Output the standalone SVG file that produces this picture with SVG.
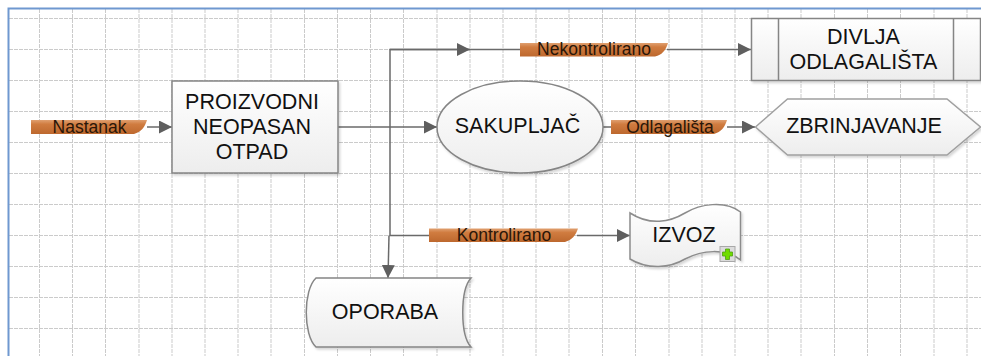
<svg xmlns="http://www.w3.org/2000/svg" width="981" height="356" viewBox="0 0 981 356">
<defs>
<linearGradient id="nodeFill" x1="0" y1="0" x2="0" y2="1"><stop offset="0" stop-color="#ffffff"/><stop offset="1" stop-color="#ededed"/></linearGradient>
<linearGradient id="tagFill" x1="0" y1="0" x2="0" y2="1"><stop offset="0" stop-color="#e0a070"/><stop offset="0.3" stop-color="#d07c40"/><stop offset="1" stop-color="#bd682e"/></linearGradient>
<filter id="shadow" x="-5%" y="-5%" width="112%" height="115%"><feDropShadow dx="1.5" dy="2" stdDeviation="1.2" flood-color="#000" flood-opacity="0.16"/></filter>
<marker id="arrow" markerUnits="userSpaceOnUse" markerWidth="14" markerHeight="13" refX="13" refY="6.5" orient="auto"><path d="M0 0L13 6.5L0 13Z" fill="#5f5f5f"/></marker>
<style>
.grid{fill:none;stroke:#cbcbcb;stroke-width:1;stroke-dasharray:4 1}
.node{fill:url(#nodeFill);stroke:#858585;stroke-width:1.5;filter:url(#shadow)}
.tag{fill:url(#tagFill)}
.line{fill:none;stroke:#6a6a6a;stroke-width:1.5}
.t{font-family:"Liberation Sans",Arial,sans-serif;font-size:21.500px;fill:#111;text-anchor:middle}
.l{font-family:"Liberation Sans",Arial,sans-serif;font-size:17.500px;fill:#2a1608;text-anchor:middle}
</style>
</defs>
<rect width="981" height="356" fill="#fff"/>
<g id="grid" class="grid">
<path d="M9 18.500H981M9 49.500H981M9 80.500H981M9 111.500H981M9 142.500H981M9 173.500H981M9 204.500H981M9 235.500H981M9 266.500H981M9 297.500H981M9 328.500H981"/>
<path d="M39.500 9V356M72.500 9V356M105.500 9V356M139 9V356M172 9V356M205 9V356M238 9V356M271 9V356M304.500 9V356M337.500 9V356M370.500 9V356M403.500 9V356M437 9V356M470 9V356M503 9V356M536 9V356M569 9V356M602.500 9V356M635.500 9V356M669 9V356M702 9V356M735 9V356M768 9V356M801 9V356M834.500 9V356M867.500 9V356M900.500 9V356M934 9V356M967 9V356"/>
</g>
<path id="frame" d="M8.500 356V8.500H981" fill="none" stroke="#6f98d0" stroke-width="2"/>
<g id="connectors">
<path class="line" d="M147 127H172" marker-end="url(#arrow)"/>
<path class="line" d="M338 127H437" marker-end="url(#arrow)"/>
<path class="line" d="M520 49.500H390V235.500H429"/>
<path class="line" d="M390 49.500H470" marker-end="url(#arrow)"/>
<path class="line" d="M389 235.500L388 278" marker-end="url(#arrow)"/>
<path class="line" d="M667 49.500H751" marker-end="url(#arrow)"/>
<path class="line" d="M603 127H611"/>
<path class="line" d="M727 127H755" marker-end="url(#arrow)"/>
<path class="line" d="M577 235.500H630" marker-end="url(#arrow)"/>
</g>
<g id="proizvodni">
<rect class="node" x="172" y="81" width="166" height="92"/>
<text class="t" x="252" y="108.500">PROIZVODNI</text>
<text class="t" x="252" y="133.500">NEOPASAN</text>
<text class="t" x="252" y="158.500">OTPAD</text>
</g>
<g id="sakupljac">
<ellipse class="node" cx="520" cy="127" rx="83" ry="46"/>
<text class="t" x="517.500" y="133">SAKUPLJAČ</text>
</g>
<g id="divlja">
<rect class="node" x="751.500" y="18.500" width="229" height="62"/>
<path d="M778.500 18.500V80.500M953.500 18.500V80.500" fill="none" stroke="#858585" stroke-width="1.500"/>
<text class="t" x="863.500" y="44">DIVLJA</text>
<text class="t" x="863.500" y="69">ODLAGALIŠTA</text>
</g>
<g id="zbrinjavanje">
<path class="node" d="M755.500 127L787.500 99H947L980.500 127L947 155H787.500Z" style="stroke:#a0a0a0"/>
<text class="t" x="864" y="133">ZBRINJAVANJE</text>
</g>
<g id="oporaba">
<path class="node" d="M316 278H471C460 290 460 335 471 347H316C303 335 303 290 316 278Z"/>
<text class="t" x="385" y="319">OPORABA</text>
</g>
<g id="izvoz">
<path class="node" d="M630 213C650 226 670 222 685 213C700 204 725 200 740.500 212V260C725 248 702 250 685 259C670 268 648 270 630 259Z" style="stroke:#8c8c8c"/>
<text class="t" x="684" y="241.500">IZVOZ</text>
<rect x="720" y="246.500" width="15" height="15" fill="#dcdcdc" stroke="#a8a8a8"/>
<path d="M725.500 249H729.500V252H732.500V256H729.500V259.500H725.500V256H722.500V252H725.500Z" fill="#6fdc00" stroke="#4f9e10" stroke-width="0.800"/>
</g>
<g id="tag-nastanak">
<path class="tag" d="M31 120H147C145 127 141 132 134 134H31Z"/>
<text class="l" x="89.500" y="133">Nastanak</text>
</g>
<g id="tag-nekontrolirano">
<path class="tag" d="M520 43H668C666 50 662 55 655 56.500H520Z"/>
<text class="l" x="594" y="55">Nekontrolirano</text>
</g>
<g id="tag-odlagalista">
<path class="tag" d="M611 120H727C725 127 721 132 714 134H611Z"/>
<text class="l" x="670" y="133">Odlagališta</text>
</g>
<g id="tag-kontrolirano">
<path class="tag" d="M429 228.500H578C576 235 572 240 565 242H429Z"/>
<text class="l" x="504" y="241">Kontrolirano</text>
</g>
</svg>
